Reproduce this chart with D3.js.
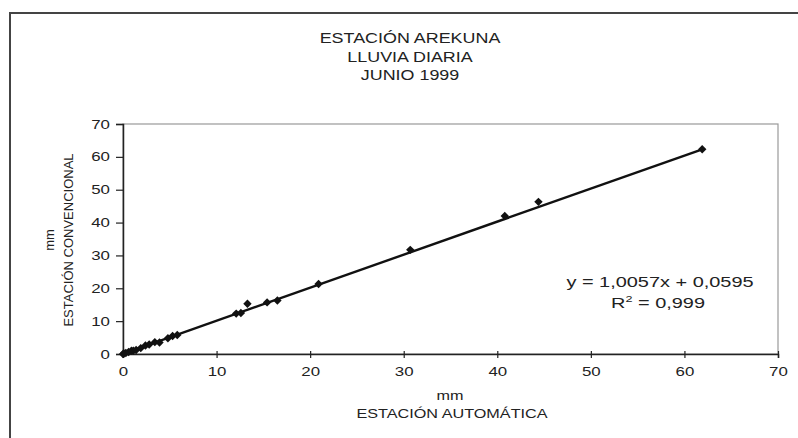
<!DOCTYPE html>
<html>
<head>
<meta charset="utf-8">
<script src="https://cdn.jsdelivr.net/npm/d3@7"></script>
<style>
  body { margin: 0; background: #fff; }
  text { font-family: "Liberation Sans", Arial, sans-serif; fill: #222; }
</style>
</head>
<body>
<svg id="chart" width="798" height="438"></svg>
<script>
// daily rainfall, automatic vs conventional station (mm)
const automatica = [0, 0.1, 0.3, 0.6, 0.9, 1.1, 1.4, 1.9, 2.4, 2.8, 3.4, 3.9, 4.8, 5.3, 5.8, 12.1, 12.6, 13.3, 15.4, 16.5, 20.9, 30.7, 40.8, 44.4, 61.9];
const convencional = [0, 0.2, 0.3, 0.6, 1.0, 1.0, 1.2, 1.8, 2.6, 2.9, 3.6, 3.5, 4.8, 5.5, 5.8, 12.3, 12.5, 15.3, 15.7, 16.3, 21.3, 31.7, 42.0, 46.3, 62.3];
const xTicks = [0, 10, 20, 30, 40, 50, 60, 70];
const yTicks = [0, 10, 20, 30, 40, 50, 60, 70];
const titleLines = ["ESTACIÓN AREKUNA", "LLUVIA DIARIA", "JUNIO 1999"];
const slope = 1.0057, intercept = 0.0595;

// the scanned original is a bit wider than tall, so text is stretched sideways
const sx = 1.28;

const svg = d3.select("#chart");
const margin = {top: 124, right: 20, bottom: 84, left: 123};
const width = 798 - margin.left - margin.right;
const height = 438 - margin.top - margin.bottom;

function wideText(parent, cx, cy, str, size, k) {
    return parent.append("text")
        .attr("transform", `translate(${cx},${cy}) scale(${k || sx},1)`)
        .attr("text-anchor", "middle")
        .attr("font-size", size)
        .text(str);
}

// outer frame (only top and left visible)
svg.append("path")
    .attr("d", "M10,438 V13 H798")
    .attr("fill", "none")
    .attr("stroke", "#444")
    .attr("stroke-width", 2);

titleLines.forEach((t, i) => wideText(svg, 410, 43 + i * 18.5, t, 14));

const g = svg.append("g").attr("transform", `translate(${margin.left},${margin.top})`);

const x = d3.scaleLinear().domain([0, 70]).range([0, width]);
const y = d3.scaleLinear().domain([0, 70]).range([height, 0]);

// plot area border
g.append("rect")
    .attr("width", width)
    .attr("height", height)
    .attr("fill", "none")
    .attr("stroke", "#999")
    .attr("stroke-width", 1.2);

const xAxis = g.append("g")
    .attr("transform", `translate(0,${height})`)
    .call(d3.axisBottom(x).tickValues(xTicks).tickSize(4).tickPadding(12));
xAxis.selectAll(".tick line").attr("y1", -3);
xAxis.selectAll(".tick text")
    .attr("dy", 0).attr("y", 22)
    .attr("transform", "scale(1.35,1)");

const yAxis = g.append("g")
    .call(d3.axisLeft(y).tickValues(yTicks).tickSize(7).tickPadding(5));
yAxis.selectAll(".tick text")
    .attr("x", 0)
    .attr("transform", "translate(-13,0) scale(1.35,1)");

[xAxis, yAxis].forEach(a => {
    a.select(".domain").attr("stroke", "#222").attr("stroke-width", 1.5);
    a.selectAll(".tick line").attr("stroke", "#222").attr("stroke-width", 1.2);
    a.selectAll(".tick text").attr("font-size", 12.5).attr("fill", "#222")
        .attr("font-family", "Liberation Sans, Arial, sans-serif");
});

// trend line
const xMax = d3.max(automatica);
g.append("line")
    .attr("x1", x(0)).attr("y1", y(intercept))
    .attr("x2", x(xMax)).attr("y2", y(slope * xMax + intercept))
    .attr("stroke", "#111")
    .attr("stroke-width", 2.4);

// points
const pts = automatica.map((v, i) => [v, convencional[i]]);
g.append("g").selectAll("path")
    .data(pts)
    .join("path")
    .attr("transform", d => `translate(${x(d[0])},${y(d[1])})`)
    .attr("d", d3.symbol(d3.symbolDiamond2, 45))
    .attr("fill", "#111");

// equation
wideText(svg, 660, 287, "y = 1,0057x + 0,0595", 15, 1.33);
const r2 = svg.append("text")
    .attr("transform", "translate(658,308) scale(1.33,1)")
    .attr("text-anchor", "middle")
    .attr("font-size", 15);
r2.append("tspan").text("R");
r2.append("tspan").attr("dy", -6).attr("font-size", 9.5).text("2");
r2.append("tspan").attr("dy", 6).text(" = 0,999");

// axis titles
wideText(svg, 450, 400, "mm", 13.5, 1.2);
wideText(svg, 452, 418, "ESTACIÓN AUTOMÁTICA", 13.5, 1.2);
svg.append("text")
    .attr("transform", "translate(54,240) rotate(-90)")
    .attr("text-anchor", "middle").attr("font-size", 13)
    .text("mm");
svg.append("text")
    .attr("transform", "translate(73,240) rotate(-90)")
    .attr("text-anchor", "middle").attr("font-size", 13)
    .text("ESTACIÓN CONVENCIONAL");
</script>
</body>
</html>
